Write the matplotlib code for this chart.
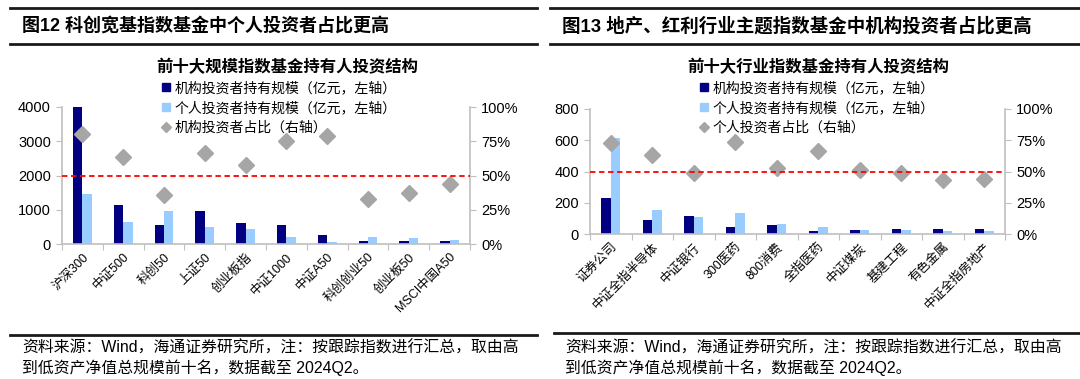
import matplotlib
matplotlib.use('Agg')
import matplotlib.pyplot as plt
from matplotlib.lines import Line2D
from matplotlib.ticker import FuncFormatter

plt.rcParams['font.family'] = ['Liberation Sans', 'Noto Sans CJK SC']

# left chart data
cats_l = ['沪深300', '中证500', '科创50', '上证50', '创业板指', '中证1000',
          '中证A50', '科创创业50', '创业板50', 'MSCI中国A50']
inst_l = [4000, 1150, 545, 970, 610, 565, 260, 95, 95, 95]
indiv_l = [1470, 650, 970, 485, 445, 195, 65, 210, 165, 125]
pct_l = [0.80, 0.635, 0.355, 0.665, 0.575, 0.75, 0.785, 0.33, 0.37, 0.435]

# right chart data
cats_r = ['证券公司', '中证全指半导体', '中证银行', '300医药', '800消费', '全指医药',
          '中证煤炭', '基建工程', '有色金属', '中证全指房地产']
inst_r = [230, 87, 115, 47, 60, 21, 28, 30, 32, 30]
indiv_r = [615, 153, 108, 132, 66, 43, 28, 28, 21, 21]
pct_r = [0.725, 0.635, 0.49, 0.74, 0.525, 0.665, 0.515, 0.485, 0.435, 0.44]

NAVY = '#000080'
LIGHT = '#99CCFF'
GRAY = '#A6A6A6'
SPINE = '#BFBFBF'

W, H = 1080, 379
fig = plt.figure(figsize=(W / 100, H / 100), dpi=100)


def px(x0, y0, x1, y1):
    # pixel box -> figure fraction rect
    return [x0 / W, 1 - y1 / H, (x1 - x0) / W, (y1 - y0) / H]


def hline(x0, x1, y, lw=2.0):
    fig.add_artist(Line2D([x0 / W, x1 / W], [1 - y / H, 1 - y / H],
                          color='#1a1a1a', lw=lw, transform=fig.transFigure))


def panel(box, cats, inst, indiv, pct, ymax, ystep, leg_xy, leg3):
    ax = fig.add_axes(px(*box))
    x = list(range(len(cats)))
    w = 0.23
    ax.bar([i - w / 2 for i in x], inst, w, color=NAVY, zorder=2)
    ax.bar([i + w / 2 for i in x], indiv, w, color=LIGHT, zorder=2)
    ax.set_xlim(-0.5, len(cats) - 0.5)
    ax.set_ylim(0, ymax)
    ax.set_yticks(range(0, ymax + 1, ystep))
    ax.set_xticks([i - 0.5 for i in range(len(cats) + 1)])
    ax.set_xticklabels([])
    ax.set_xticks(x, minor=True)
    ax.set_xticklabels(cats, minor=True, rotation=45, ha='right', va='top',
                       rotation_mode='anchor', fontsize=9)
    ax.tick_params(axis='x', which='minor', length=0, pad=5)
    ax.tick_params(axis='x', which='major', length=4, color=SPINE)
    ax.tick_params(axis='y', length=4, color=SPINE, labelsize=10.5, pad=4)
    for s in ['top', 'right']:
        ax.spines[s].set_visible(False)
    for s in ['left', 'bottom']:
        ax.spines[s].set_color(SPINE)
        ax.spines[s].set_linewidth(1.2)

    ax2 = ax.twinx()
    ax2.set_ylim(0, 1)
    ax2.set_yticks([0, 0.25, 0.5, 0.75, 1.0])
    ax2.yaxis.set_major_formatter(FuncFormatter(lambda v, p: f'{v:.0%}'))
    ax2.tick_params(axis='y', length=4, color=SPINE, labelsize=10.5, pad=4)
    for s in ['top', 'left', 'bottom']:
        ax2.spines[s].set_visible(False)
    ax2.spines['right'].set_color(SPINE)
    ax2.spines['right'].set_linewidth(1.2)
    ax2.plot(x, pct, linestyle='none', marker='D', markersize=8,
             color=GRAY, zorder=3)
    ax2.plot([-0.5, len(cats) - 0.5], [0.5, 0.5], color='#FF0000',
             lw=1.3, linestyle=(0, (3, 2)), zorder=4)

    handles = [
        Line2D([], [], linestyle='none', marker='s', markersize=6, color=NAVY),
        Line2D([], [], linestyle='none', marker='s', markersize=6, color=LIGHT),
        Line2D([], [], linestyle='none', marker='D', markersize=5, color=GRAY),
    ]
    labels = ['机构投资者持有规模（亿元，左轴）', '个人投资者持有规模（亿元，左轴）', leg3]
    fig.legend(handles, labels, loc='upper left',
               bbox_to_anchor=(leg_xy[0] / W, 1 - leg_xy[1] / H),
               frameon=False, fontsize=10, handlelength=0.6,
               handletextpad=0.3, labelspacing=0.42, borderpad=0,
               borderaxespad=0)
    return ax


panel((62, 107, 470, 244), cats_l, inst_l, indiv_l, pct_l, 4000, 1000,
      (162, 81), '机构投资者占比（右轴）')
panel((590, 109, 1005, 234), cats_r, inst_r, indiv_r, pct_r, 800, 200,
      (700, 81), '个人投资者占比（右轴）')

# header rules and titles
hline(10, 537, 8)
hline(10, 537, 44)
hline(550, 1080, 8)
hline(550, 1080, 44)
fig.text(22 / W, 1 - 26 / H, '图12 科创宽基指数基金中个人投资者占比更高',
         fontsize=13, fontweight='bold', va='center', ha='left')
fig.text(562 / W, 1 - 26 / H, '图13 地产、红利行业主题指数基金中机构投资者占比更高',
         fontsize=13.3, fontweight='bold', va='center', ha='left')
fig.text(287 / W, 1 - 67 / H, '前十大规模指数基金持有人投资结构',
         fontsize=11.8, fontweight='bold', va='center', ha='center')
fig.text(818 / W, 1 - 67 / H, '前十大行业指数基金持有人投资结构',
         fontsize=11.8, fontweight='bold', va='center', ha='center')

# footer
hline(10, 537, 335)
hline(554, 1080, 333)
src1 = '资料来源：Wind，海通证券研究所，注：按跟踪指数进行汇总，取由高'
src2 = '到低资产净值总规模前十名，数据截至 2024Q2。'
for x0 in (22, 565):
    fig.text(x0 / W, 1 - 348 / H, src1, fontsize=11.4, va='center', ha='left')
    fig.text(x0 / W, 1 - 368 / H, src2, fontsize=11.4, va='center', ha='left')

fig.savefig('out.png', dpi=100)
